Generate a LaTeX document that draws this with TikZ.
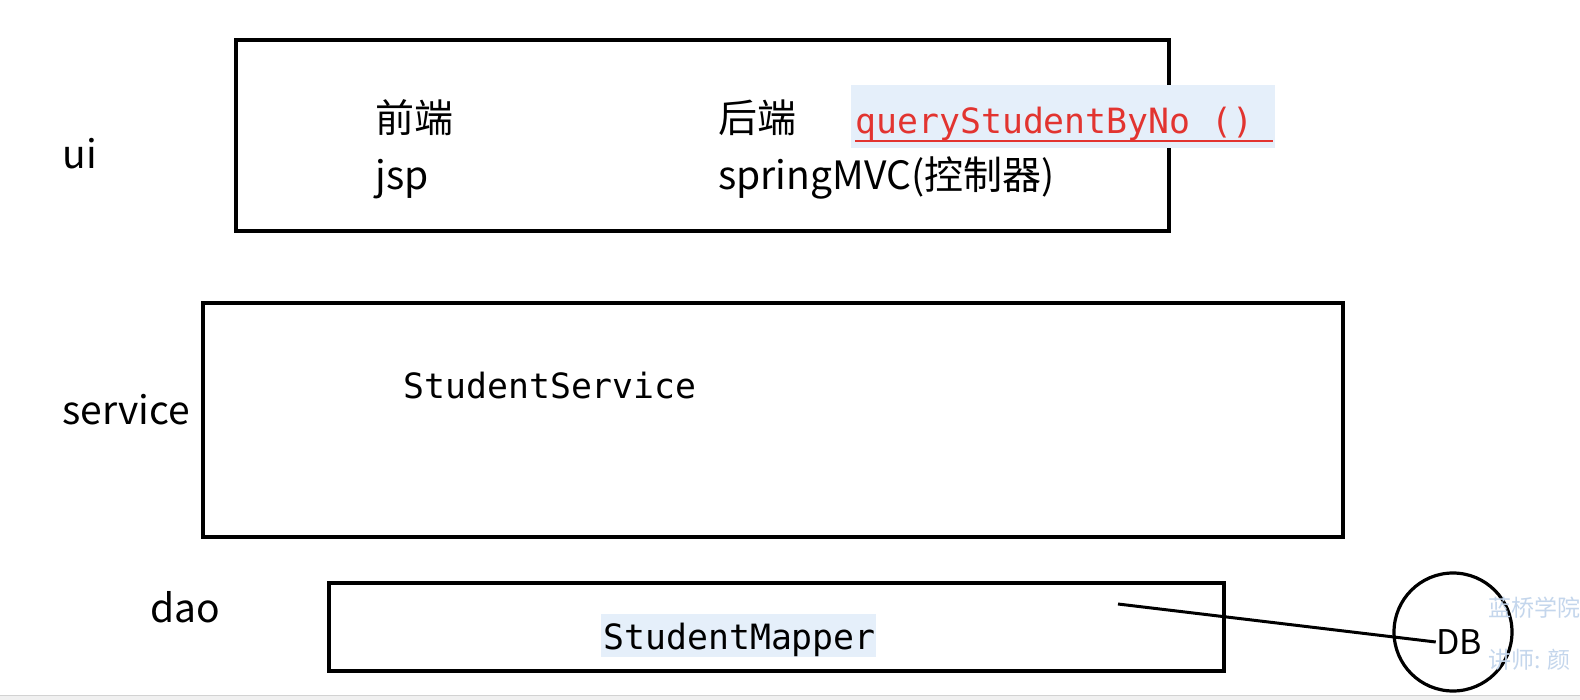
\documentclass[tikz,border=0pt]{standalone}
\usepackage{fontspec}
\setmainfont{Noto Sans CJK SC}
\newfontfamily\monof{DejaVu Sans Mono}
\definecolor{hl}{RGB}{229,239,250}
\definecolor{codered}{RGB}{226,52,48}
\definecolor{wm}{RGB}{196,214,236}
\begin{document}
\begin{tikzpicture}[x=0.5pt,y=-0.5pt,
  layerbox/.style={draw=black,line width=2pt,inner sep=0pt,anchor=north west},
  lbl/.style={anchor=base west,inner sep=0pt,font=\fontsize{19.5}{22}\selectfont},
  code/.style={anchor=base west,inner sep=0pt,font=\monof\fontsize{17.4}{20}\selectfont},
  wmark/.style={anchor=base west,inner sep=0pt,text=wm,font=\fontsize{11.5}{14}\selectfont}]
\useasboundingbox (0,0) rectangle (1580,700);
\fill[white] (0,0) rectangle (1580,700);
\fill[gray!12] (0,695) rectangle (1580,700);
\draw[gray!35,line width=0.5pt] (0,695) -- (1580,695);

% layer boxes
\node[layerbox,minimum width=466.5pt,minimum height=95.5pt] (uibox) at (234,38) {};
\node[layerbox,minimum width=570pt,minimum height=117pt] (servicebox) at (201,301) {};
\node[layerbox,minimum width=447.5pt,minimum height=44pt] (daobox) at (327,581) {};

% layer labels
\node[lbl] (ui) at (62,169) {ui};
\node[lbl] (service) at (62,424) {service};
\node[lbl] (dao) at (150,622) {dao};

% ui contents
\node[lbl] (front) at (375,133) {前端};
\node[lbl] (jsp) at (375,190) {jsp};
\node[lbl] (back) at (718,133) {后端};
\node[lbl] (mvc) at (718,190) {springMVC(控制器)};

% highlighted method
\fill[hl] (851,85) rectangle (1275,148);
\node[code,text=codered] (query) at (855,134) {queryStudentByNo ()};
\draw[codered,line width=1.2pt] (855,141) -- (1273,141);

% service contents
\node[code] (studentservice) at (403,398) {StudentService};

% dao contents
\fill[hl] (601,614) rectangle (876,657);
\node[code] (studentmapper) at (603,649) {StudentMapper};

% database
\node[draw=black,line width=1.6pt,circle,minimum size=59pt,inner sep=0pt] (dbcircle) at (1453,632) {};
\node[inner sep=0pt,font=\fontsize{17}{20}\selectfont] (db) at (1459,642) {DB};
\coordinate (mapperEnd) at (1118,604);
\draw[line width=1.5pt] (mapperEnd) -- (db.west);

% watermark
\node[wmark] (wm1) at (1488,616) {蓝桥学院};
\node[wmark] (wm2) at (1488,668) {讲师: 颜};
\end{tikzpicture}
\end{document}
